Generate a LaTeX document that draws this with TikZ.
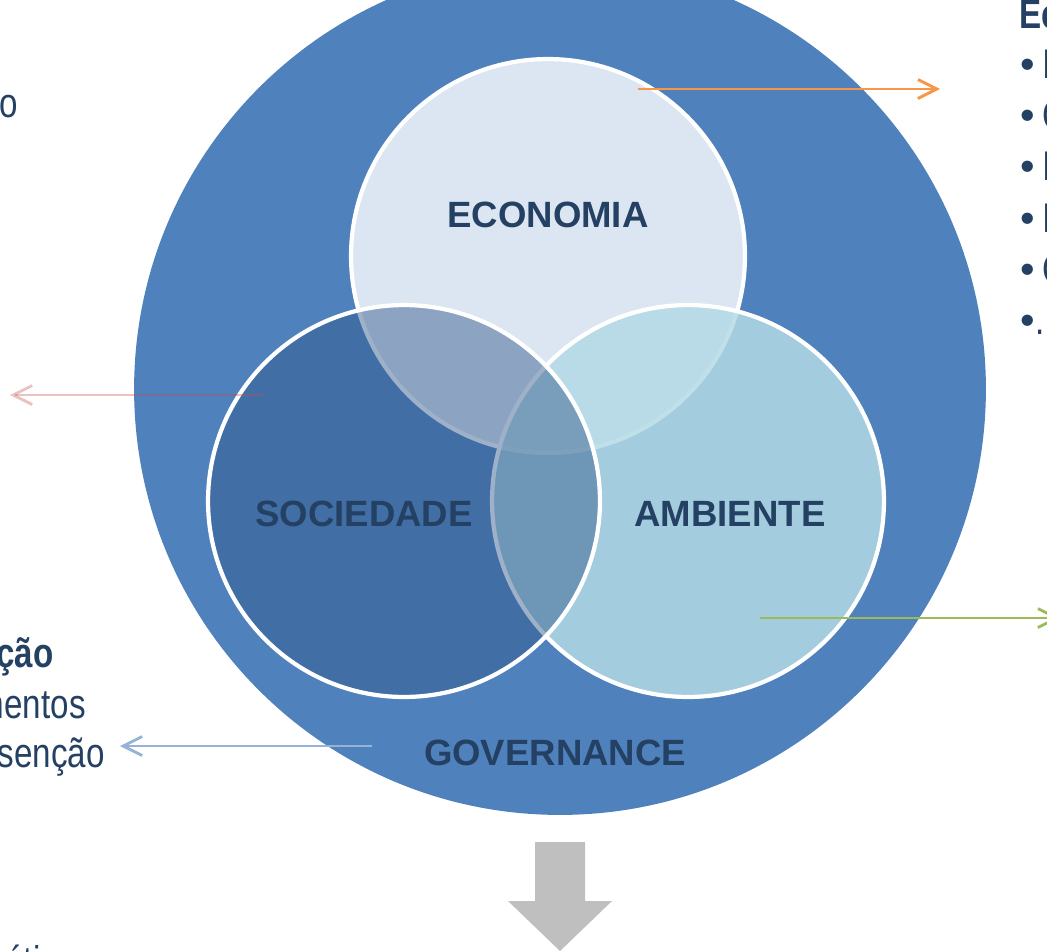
\documentclass[tikz,border=0pt]{standalone}
\usepackage{fontspec}
\setmainfont{Liberation Sans}
\newfontfamily\narrowfont{Liberation Sans}[FakeStretch=0.8]
\usetikzlibrary{arrows.meta}
\definecolor{govblue}{HTML}{4F81BD}
\definecolor{econfill}{HTML}{DCE6F2}
\definecolor{ambfill}{HTML}{B4DAE6}
\definecolor{socfill}{HTML}{335B8C}
\definecolor{navytext}{HTML}{244062}
\definecolor{econarrow}{HTML}{F79646}
\definecolor{socarrow}{HTML}{C0504D}
\definecolor{ambarrow}{HTML}{9BBB59}
\definecolor{govarrow}{HTML}{95B3D7}
\definecolor{downgray}{HTML}{BFBFBF}

\begin{document}
\begin{tikzpicture}[x=0.02cm,y=-0.02cm,
  venn/.style={circle,draw=white,line width=2.4pt,inner sep=0pt,minimum size=7.84cm},
  title/.style={text=navytext,inner sep=0pt,font=\fontsize{20.8}{25}\selectfont\bfseries},
  side/.style={text=navytext,inner sep=0pt,font=\narrowfont\fontsize{23.6}{28}\selectfont},
  sidebold/.style={side,font=\narrowfont\fontsize{23.6}{28}\selectfont\bfseries},
  bul/.style={text=navytext,inner sep=0pt,anchor=base,font=\fontsize{23.6}{28}\selectfont},
  link/.style={line width=1.6pt,-{Straight Barb[length=3.8mm,width=3.8mm]}}]
  \path[use as bounding box,clip] (0,0) rectangle (1047,951);

  % the three pillars inside governance
  \node[circle,fill=govblue,inner sep=0pt,minimum size=17.04cm] (gov) at (560,389) {};
  \node[venn,fill=econfill,minimum size=7.88cm] (econ) at (548,256) {};
  \node[venn,fill=ambfill,fill opacity=0.85] (amb) at (688,501) {};
  \node[venn,fill=socfill,fill opacity=0.47] (soc) at (404,501) {};

  \node[title] (econ-lbl) at (548,215) {ECONOMIA};
  \node[title] (soc-lbl) at (364,514) {SOCIEDADE};
  \node[title] (amb-lbl) at (730,514) {AMBIENTE};
  \node[title] (gov-lbl) at (555,753) {GOVERNANCE};

  % pointers out to the side texts
  \coordinate (econ-from) at (638,89);   \coordinate (econ-to) at (940,89);
  \coordinate (soc-from) at (263,395);   \coordinate (soc-to) at (10,395);
  \coordinate (amb-from) at (760,618);   \coordinate (amb-to) at (1060,618);
  \coordinate (gov-from) at (372,746);   \coordinate (gov-to) at (120,746);
  \draw[link,econarrow] (econ-from) -- (econ-to);
  \draw[link,socarrow,draw opacity=0.35] (soc-from) -- (soc-to);
  \draw[link,ambarrow] (amb-from) -- (amb-to);
  \draw[link,govarrow] (gov-from) -- (gov-to);

  \fill[downgray] (535,842) -- (585,842) -- (585,901) -- (612,901) -- (560,951)
    -- (508,901) -- (535,901) -- cycle;

  % side texts, cut by the frame
  \node[side,anchor=base east] (top-left) at (18.5,117) {o};
  \node[sidebold,anchor=base east] (gov-head) at (54,667) {ção};
  \node[side,anchor=base east] (gov-line1) at (86,718) {mentos};
  \node[side,anchor=base east] (gov-line2) at (105,767) {senção};
  \node[side,anchor=base west] (bottom-left) at (5,975) {ética};

  \node[sidebold,anchor=base west] (econ-head) at (1019.5,28) {Ec};
  \foreach \i/\y/\c in {1/78/I,2/129/C,3/180/I,4/232/I,5/283/C}{
    \node[bul] (bul\i) at (1027.5,\y) {•};
    \node[side,anchor=base west] (item\i) at (1042,\y) {\c};
  }
  \node[bul] (bul6) at (1027.5,334) {•};
  \node[side,anchor=base west] (item6) at (1035,334) {...};
\end{tikzpicture}
\end{document}
